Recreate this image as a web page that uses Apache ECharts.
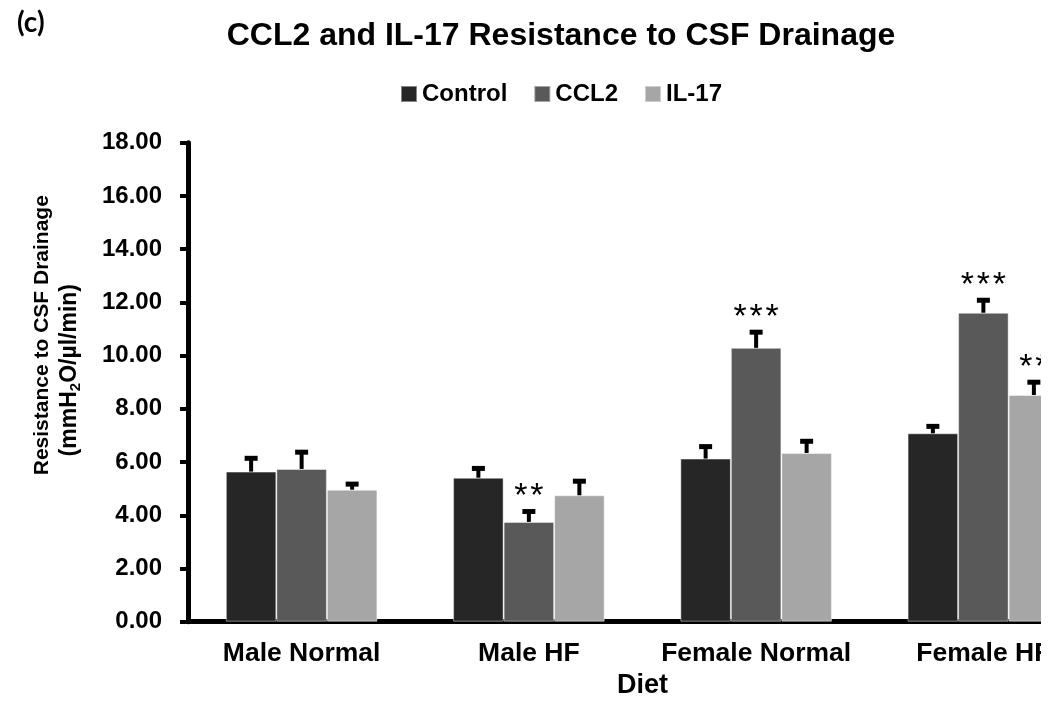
<!DOCTYPE html>
<html>
<head>
<meta charset="utf-8">
<script src="https://cdn.jsdelivr.net/npm/echarts@6/dist/echarts.min.js"></script>
<style>
  html, body { margin: 0; padding: 0; background: #ffffff; }
  #frame { width: 1041px; height: 706px; overflow: hidden; background: #ffffff; }
  #chart { width: 1122px; height: 706px; }
</style>
</head>
<body>
<div id="frame"><div id="chart"></div></div>
<script>
// Diet groups on the x axis
const categories = ['Male Normal', 'Male HF', 'Female Normal', 'Female HF'];

// Mean resistance (mmH2O/µl/min) and upper error for each treatment
const controlMean = [5.64, 5.41, 6.13, 7.08];
const controlErr  = [0.50, 0.35, 0.45, 0.26];
const ccl2Mean    = [5.74, 3.75, 10.29, 11.61];
const ccl2Err     = [0.63, 0.39, 0.59, 0.47];
const il17Mean    = [4.96, 4.75, 6.34, 8.52];
const il17Err     = [0.21, 0.53, 0.44, 0.48];

// Significance marks drawn above the error bars
const controlSig = ['', '', '', ''];
const ccl2Sig    = ['', '**', '***', '***'];
const il17Sig    = ['', '', '', '**'];

// Y axis ticks
const yMin = 0, yMax = 18, yStep = 2;

const seriesNames = ['Control', 'CCL2', 'IL-17'];
const colors = ['#262626', '#595959', '#a6a6a6'];
const means = [controlMean, ccl2Mean, il17Mean];
const errs = [controlErr, ccl2Err, il17Err];
const sigs = [controlSig, ccl2Sig, il17Sig];

const FONT = "'Liberation Sans', Arial, sans-serif";
const CATEGORY_GAP = 1 / 3;   // share of each band left empty

function starText(s) {
  // spread the asterisks a little
  return s.split('').join('\u200a');
}

function errorBarRenderer(k) {
  return function (params, api) {
    const cat = api.value(0);
    const mean = api.value(1);
    const err = api.value(2);
    const band = api.size([1, 0])[0];
    const barW = band * (1 - CATEGORY_GAP) / 3;
    const base = api.coord([cat, mean]);
    const end = api.coord([cat, mean + err]);
    const x = base[0] + (k - 1) * barW;
    const capW = 13, capH = 5, stemW = 4;
    const children = [
      { type: 'rect', shape: { x: x - stemW / 2, y: end[1], width: stemW, height: base[1] - end[1] },
        style: { fill: '#000000' } },
      { type: 'rect', shape: { x: x - capW / 2, y: end[1] - capH / 2, width: capW, height: capH },
        style: { fill: '#000000' } }
    ];
    const s = sigs[k][params.dataIndex];
    if (s) {
      children.push({
        type: 'text',
        style: {
          text: starText(s), x: x, y: end[1] - 15,
          align: 'center', verticalAlign: 'middle',
          fill: '#000000', font: "normal 34px " + FONT
        }
      });
    }
    return { type: 'group', children: children };
  };
}

const series = [];
for (let k = 0; k < 3; k++) {
  series.push({
    name: seriesNames[k],
    type: 'bar',
    data: means[k],
    barGap: '0%',
    barCategoryGap: (CATEGORY_GAP * 100).toFixed(1) + '%',
    itemStyle: { color: colors[k], borderColor: 'rgba(255,255,255,0.45)', borderWidth: 1 },
    z: 2
  });
}
for (let k = 0; k < 3; k++) {
  series.push({
    name: seriesNames[k] + ' error',
    type: 'custom',
    renderItem: errorBarRenderer(k),
    data: means[k].map((m, i) => [i, m, errs[k][i]]),
    encode: { x: 0, y: 1 },
    clip: false,
    silent: true,
    z: 3
  });
}

const chart = echarts.init(document.getElementById('chart'), null, { renderer: 'canvas' });
chart.setOption({
  animation: false,
  backgroundColor: '#ffffff',
  title: [
    { text: '(c)', left: 12, top: 4,
      textStyle: { fontFamily: "Lato, 'Open Sans', sans-serif", fontWeight: 'bold', fontSize: 28, color: '#000000' } },
    { text: 'CCL2 and IL-17 Resistance to CSF Drainage', left: 'center', top: 15,
      textStyle: { fontFamily: FONT, fontWeight: 'bold', fontSize: 32, color: '#000000' } }
  ],
  legend: {
    data: seriesNames,
    left: 'center', top: 77,
    icon: 'rect', itemWidth: 16, itemHeight: 16, itemGap: 26,
    textStyle: { fontFamily: FONT, fontWeight: 'bold', fontSize: 24, color: '#000000' }
  },
  grid: { left: 188, top: 142.7, width: 909, height: 479, containLabel: false },
  xAxis: {
    type: 'category',
    data: categories,
    name: 'Diet',
    nameLocation: 'middle',
    nameGap: 49,
    nameTextStyle: { fontFamily: FONT, fontWeight: 'bold', fontSize: 27, color: '#000000' },
    axisLine: { lineStyle: { color: '#000000', width: 5 } },
    axisTick: { show: false },
    axisLabel: { interval: 0, margin: 18, fontFamily: FONT, fontWeight: 'bold', fontSize: 26.5, color: '#000000' }
  },
  yAxis: {
    type: 'value',
    min: yMin, max: yMax, interval: yStep,
    name: '{a|Resistance to CSF Drainage}\n{b|(mmH}{s|2}{c|O/\u00b5l/min)}',
    nameLocation: 'middle',
    nameGap: 105,
    nameRotate: 90,
    nameTextStyle: {
      fontFamily: FONT, fontWeight: 'bold', color: '#000000', align: 'center',
      padding: [0, 0, 0, 94],
      rich: {
        a: { fontFamily: FONT, fontWeight: 'bold', fontSize: 21, lineHeight: 27, color: '#000000' },
        b: { fontFamily: FONT, fontWeight: 'bold', fontSize: 23, lineHeight: 27, color: '#000000' },
        c: { fontFamily: FONT, fontWeight: 'bold', fontSize: 23, lineHeight: 27, color: '#000000',
             padding: [0, 70, 0, 0] },
        s: { fontFamily: FONT, fontWeight: 'bold', fontSize: 15, lineHeight: 15, verticalAlign: 'bottom', color: '#000000' }
      }
    },
    axisLine: { show: true, lineStyle: { color: '#000000', width: 5 } },
    axisTick: { show: true, length: 8, lineStyle: { color: '#000000', width: 4 } },
    splitLine: { show: false },
    axisLabel: {
      margin: 26, fontFamily: FONT, fontWeight: 'bold', fontSize: 24, color: '#000000',
      formatter: v => v.toFixed(2)
    }
  },
  series: series
});
</script>
</body>
</html>
